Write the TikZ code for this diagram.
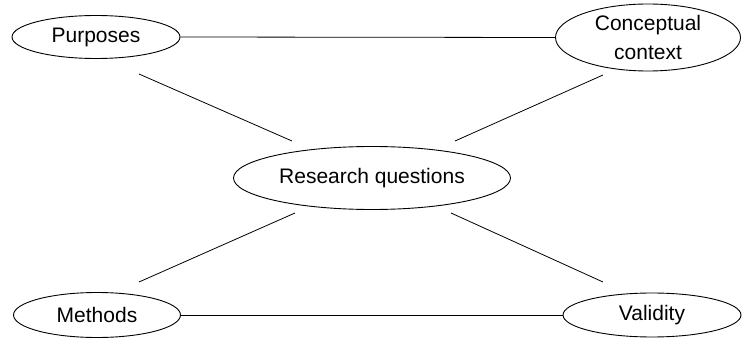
\documentclass[tikz,border=0pt]{standalone}
\usepackage{fontspec}
\setmainfont{Liberation Sans}
\usetikzlibrary{shapes.geometric}
\usetikzlibrary{calc}

\tikzset{
  bubble/.style={draw, ellipse, line width=.9pt, inner sep=0pt, align=center,
                 font=\fontsize{21}{29}\selectfont},
  link/.style={black, line width=.8pt}
}

\begin{document}
\begin{tikzpicture} [x=1pt, y=-1pt]
\useasboundingbox (0,0) rectangle (742,339);
\node[bubble, minimum width=168, minimum height=43] (pur) at (96,37) {Purposes};
\node[bubble, minimum width=185, minimum height=67] (con) at (648,37.5) {Conceptual\\context};
\node[bubble, minimum width=277, minimum height=63] (rq) at (372,178) {Research questions};
\node[bubble, minimum width=167, minimum height=45] (met) at (97,315) {Methods};
\node[bubble, minimum width=178, minimum height=44] (val) at (652,315) {Validity};
% loose ends of the diagonals
\coordinate (P) at (139,74);
\coordinate (Q) at (292,141);
\coordinate (C) at (603,75);
\coordinate (D) at (455,141);
\coordinate (M) at (139,282);
\coordinate (N) at (295,213);
\coordinate (V) at (603,282);
\coordinate (W) at (451,213);
\draw[link] (pur.east)--(con.west);
\draw[link] (met.east)--(val.west);
\draw[link] (P)--(Q);
\draw[link] (C)--(D);
\draw[link] (M)--(N);
\draw[link] (V)--(W);
\end{tikzpicture}
\end{document}
